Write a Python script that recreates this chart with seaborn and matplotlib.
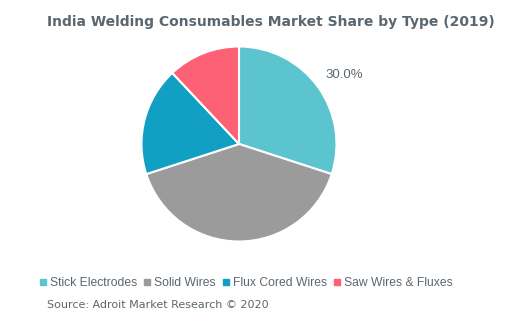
import matplotlib
matplotlib.use("Agg")
import matplotlib.pyplot as plt
import seaborn as sns
from matplotlib.lines import Line2D

categories = ["Stick Electrodes", "Solid Wires", "Flux Cored Wires", "Saw Wires & Fluxes"]
shares = [30.0, 40.0, 18.0, 12.0]
colors = ["#5BC4CF", "#9B9B9B", "#129FC4", "#FD6175"]
title = "India Welding Consumables Market Share by Type (2019)"
source = "Source: Adroit Market Research © 2020"
text_color = "#5b6770"

sns.set_theme(style="white")
plt.rcParams['font.family'] = ['Liberation Sans', 'DejaVu Sans']

fig = plt.figure(figsize=(5.07, 3.18), dpi=100)
fig.patch.set_facecolor("white")
ax = fig.add_axes([0.2791, 0.2406, 0.3846, 0.6132])

shown = {"done": False}
def fmt(pct):
    if not shown["done"]:
        shown["done"] = True
        return f"{pct:.1f}%"
    return ""

wedges, texts, autotexts = ax.pie(
    shares, colors=colors, startangle=90, counterclock=False,
    autopct=fmt, pctdistance=1.27,
    wedgeprops=dict(edgecolor="white", linewidth=1.5),
    textprops=dict(color=text_color, fontsize=9.5),
)
autotexts[0].set_position((1.08, 0.71))
ax.set_xlim(-1, 1)
ax.set_ylim(-1, 1)
ax.set_aspect("equal")
ax.axis("off")

fig.text(271 / 507, 1 - 22 / 318, title, ha="center", va="center",
         fontsize=10, fontweight="bold", color=text_color, family="DejaVu Sans")

handles = [Line2D([0], [0], marker="s", linestyle="", markersize=4,
                  markerfacecolor=c, markeredgecolor=c) for c in colors]
fig.legend(handles, categories, loc="center", ncol=4,
           bbox_to_anchor=(246 / 507, 1 - 283 / 318), frameon=False,
           fontsize=8.7, labelcolor=text_color, handletextpad=0.25,
           columnspacing=0.55, handlelength=0.6, borderaxespad=0)

fig.text(47 / 507, 1 - 305 / 318, source, ha="left", va="center",
         fontsize=8, color=text_color, family="DejaVu Sans")

fig.savefig("out.png", dpi=100)
